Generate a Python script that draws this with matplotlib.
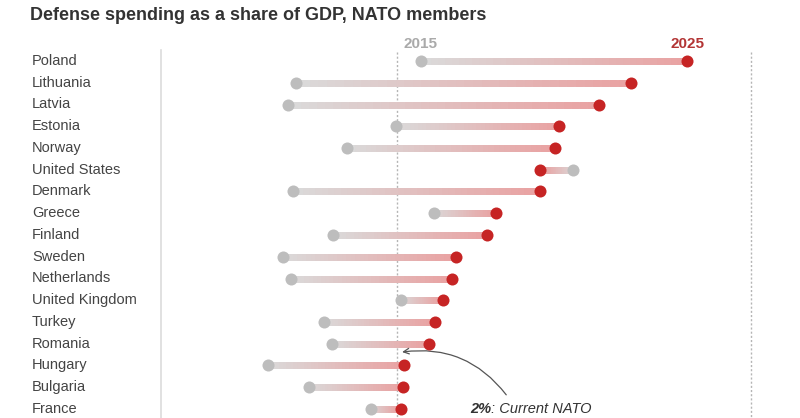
import matplotlib.pyplot as plt
import numpy as np
from matplotlib.collections import LineCollection
from matplotlib.colors import to_rgba

plt.rcParams['font.family'] = ['Liberation Sans', 'DejaVu Sans']

countries = ['Poland', 'Lithuania', 'Latvia', 'Estonia', 'Norway', 'United States',
             'Denmark', 'Greece', 'Finland', 'Sweden', 'Netherlands', 'United Kingdom',
             'Turkey', 'Romania', 'Hungary', 'Bulgaria', 'France']
share_2015 = [2.20, 1.14, 1.08, 1.99, 1.58, 3.49, 1.12, 2.31, 1.46, 1.03, 1.10,
              2.03, 1.38, 1.45, 0.91, 1.25, 1.78]
share_2025 = [4.46, 3.98, 3.71, 3.37, 3.34, 3.21, 3.21, 2.84, 2.76, 2.50, 2.47,
              2.39, 2.32, 2.27, 2.06, 2.05, 2.03]

gray = '#bdbdbd'
red = '#c62424'

fig = plt.figure(figsize=(8, 4.18), dpi=100)
ax = fig.add_axes([0, 0, 1, 1])
ax.set_xlim(-161 / 118, (800 - 161) / 118)
ax.set_ylim((418 - 61) / 21.75, -61 / 21.75)
ax.axis('off')

# reference lines
ax.plot([0, 0], [-0.5, 17], color='#dcdcdc', lw=1.2, zorder=1)
for v in (2, 5):
    ax.plot([v, v], [-0.42, 17], color='#b5b5b5', lw=1, ls=(0, (1.5, 1.5)), zorder=1)

c0 = np.array(to_rgba('#dadada'))
c1 = np.array(to_rgba('#e9a3a3'))
for i, (a, b) in enumerate(zip(share_2015, share_2025)):
    xs = np.linspace(a, b, 40)
    segs = [[(xs[k], i), (xs[k + 1], i)] for k in range(len(xs) - 1)]
    t = np.linspace(0, 1, len(segs))[:, None]
    cols = c0 * (1 - t) + c1 * t
    ax.add_collection(LineCollection(segs, colors=cols, linewidths=5,
                                     capstyle='projecting', zorder=2))
    ax.text(-1.093, i, countries[i], ha='left', va='center', fontsize=10.5, color='#444444')

rows = np.arange(len(countries))
ax.scatter(share_2015, rows, s=75, color=gray, zorder=3, linewidths=0)
ax.scatter(share_2025, rows, s=75, color=red, zorder=4, linewidths=0)

ax.text(share_2015[0], -0.8, '2015', ha='center', va='center', fontsize=11,
        color='#aaaaaa', fontweight='bold')
ax.text(share_2025[0], -0.8, '2025', ha='center', va='center', fontsize=11,
        color='#b33535', fontweight='bold')

ax.annotate('', xy=(2.02, 13.4), xytext=(2.94, 15.45),
            arrowprops=dict(arrowstyle='->', color='#555555', lw=0.9,
                            connectionstyle='arc3,rad=0.3'))
t1 = ax.text(2.62, 16.0, '2%', ha='left', va='center', fontsize=10.5, fontweight='bold',
             style='italic', color='#333333')
fig.canvas.draw()
bb = t1.get_window_extent().transformed(ax.transData.inverted())
ax.text(bb.x1, 16.0, ': Current NATO', ha='left', va='center', fontsize=10.5,
        style='italic', color='#333333')

fig.text(30 / 800, 1 - 15 / 418, 'Defense spending as a share of GDP, NATO members',
         ha='left', va='center', fontsize=13, fontweight='bold', color='#333333')

fig.savefig('out.png', dpi=100)
